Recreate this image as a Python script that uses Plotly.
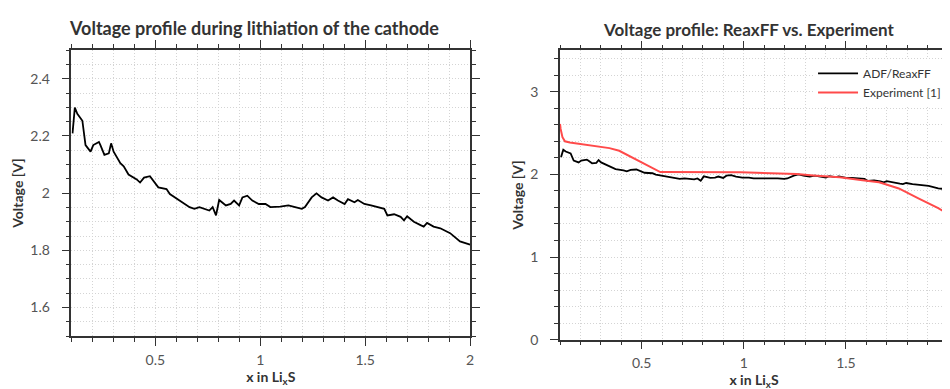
import plotly.graph_objects as go

# ---- data ----
x_sim = [0.105, 0.116, 0.128, 0.144, 0.152, 0.167, 0.191, 0.204, 0.231, 0.238,
         0.257, 0.278, 0.289, 0.301, 0.333, 0.349, 0.372, 0.411, 0.427, 0.446,
         0.474, 0.514, 0.553, 0.569, 0.616, 0.663, 0.686, 0.710, 0.757, 0.773,
         0.789, 0.804, 0.836, 0.859, 0.875, 0.899, 0.915, 0.938, 0.962, 0.993,
         1.025, 1.048, 1.095, 1.134, 1.166, 1.198, 1.213, 1.245, 1.268, 1.292,
         1.323, 1.347, 1.370, 1.402,
         1.418, 1.449, 1.465, 1.496, 1.528, 1.559, 1.591, 1.606, 1.638, 1.669,
         1.685, 1.700, 1.732, 1.764, 1.779, 1.795, 1.826, 1.858, 1.905, 1.952, 2.0]
v_sim = [2.209, 2.299, 2.277, 2.259, 2.253, 2.168, 2.145, 2.168, 2.179, 2.168,
         2.134, 2.139, 2.174, 2.145, 2.105, 2.094, 2.065, 2.048, 2.037, 2.054,
         2.059, 2.020, 2.014, 1.997, 1.974, 1.951, 1.945, 1.951, 1.939, 1.951,
         1.922, 1.976, 1.957, 1.962, 1.974, 1.957, 1.985, 1.991, 1.974, 1.962,
         1.962, 1.951, 1.953, 1.957, 1.951, 1.945, 1.951, 1.985, 1.999, 1.985,
         1.974, 1.985, 1.974, 1.962,
         1.979, 1.968, 1.976, 1.962, 1.957, 1.951, 1.945, 1.922, 1.926, 1.917,
         1.905, 1.919, 1.900, 1.888, 1.883, 1.896, 1.883, 1.877, 1.860, 1.831, 1.820]

x_exp = [0.1, 0.103, 0.112, 0.124, 0.148, 0.213, 0.342, 0.390, 0.454, 0.535,
         0.591, 0.985, 1.130, 1.259, 1.340, 1.469, 1.581, 1.662, 1.694, 1.759,
         1.855, 1.952, 2.0]
v_exp = [2.61, 2.55, 2.45, 2.40, 2.386, 2.365, 2.318, 2.286, 2.207, 2.107,
         2.028, 2.025, 2.018, 2.005, 1.988, 1.965, 1.929, 1.905, 1.881, 1.830,
         1.711, 1.592, 1.52]

title_left = "Voltage profile during lithiation of the cathode"
title_right = "Voltage profile: ReaxFF vs. Experiment"
x_title = "<b>x in Li<sub>x</sub>S</b>"
y_title = "<b>Voltage [V]</b>"

W, H = 950, 389
FONT = "Lato"
GRID = "#d4d4d4"
GDASH = "1px,2px"
AXC = "#333333"

fig = go.Figure()
fig.add_trace(go.Scatter(x=x_sim, y=v_sim, mode="lines", line=dict(color="black", width=1.8),
                         showlegend=False, xaxis="x", yaxis="y"))
fig.add_trace(go.Scatter(x=x_sim, y=v_sim, mode="lines", line=dict(color="black", width=1.8),
                         name="ADF/ReaxFF", xaxis="x2", yaxis="y2"))
fig.add_trace(go.Scatter(x=x_exp, y=v_exp, mode="lines", line=dict(color="#ff4a4a", width=2),
                         name="Experiment [1]", xaxis="x2", yaxis="y2"))


def xax(domain, anchor):
    return dict(domain=domain, anchor=anchor, range=[0.1, 2], tick0=0, dtick=0.5,
                showline=True, linecolor=AXC, linewidth=1.5, mirror="allticks",
                ticks="outside", ticklen=8, tickwidth=1.2, tickcolor=AXC,
                showgrid=True, gridcolor=GRID, griddash=GDASH, gridwidth=1,
                zeroline=False, ticklabeloverflow="allow", ticklabelstandoff=2,
                tickfont=dict(family=FONT, size=14, color="#555555"),
                title=dict(text=x_title, font=dict(family=FONT, size=14, color="#333333"), standoff=3),
                minor=dict(tick0=0, dtick=0.1, ticks="outside", ticklen=4, tickcolor=AXC,
                           showgrid=True, gridcolor=GRID, griddash=GDASH, gridwidth=1))


def yax(domain, anchor, rng, dtick, mdtick):
    return dict(domain=domain, anchor=anchor, range=rng, tick0=0, dtick=dtick,
                showline=True, linecolor=AXC, linewidth=1.5, mirror="allticks",
                ticks="outside", ticklen=8, tickwidth=1.2, tickcolor=AXC,
                showgrid=True, gridcolor=GRID, griddash=GDASH, gridwidth=1,
                zeroline=False, ticklabelstandoff=9,
                tickfont=dict(family=FONT, size=14, color="#555555"),
                title=dict(text=y_title, font=dict(family=FONT, size=14, color="#333333"), standoff=3),
                minor=dict(tick0=0, dtick=mdtick, ticks="outside", ticklen=4, tickcolor=AXC,
                           showgrid=True, gridcolor=GRID, griddash=GDASH, gridwidth=1))


fig.update_layout(
    width=W, height=H,
    margin=dict(l=0, r=0, t=0, b=0),
    paper_bgcolor="white", plot_bgcolor="white",
    font=dict(family=FONT, color="#333333"),
    xaxis=xax([64 / W, 466 / W], "y"),
    yaxis=yax([1 - 335 / H, 1 - 43 / H], "x", [1.5, 2.5], 0.2, 0.05),
    xaxis2=xax([556.7 / W, 948 / W], "y2"),
    yaxis2=yax([1 - 338.7 / H, 1 - 43.3 / H], "x2", [0, 3.5], 1, 0.2),
    legend=dict(x=946 / W, xanchor="right", y=1 - 52 / H, yanchor="top",
                bgcolor="white", borderwidth=0, itemwidth=40,
                font=dict(family=FONT, size=12, color="#333333")),
    annotations=[
        dict(text="<b>" + title_left + "</b>", x=248 / W, y=1 - 20 / H, xref="paper", yref="paper",
             xanchor="center", yanchor="middle", showarrow=False,
             font=dict(family=FONT, size=18, color="#333333")),
        dict(text="<b>" + title_right + "</b>", x=747 / W, y=1 - 21.5 / H, xref="paper", yref="paper",
             xanchor="center", yanchor="middle", showarrow=False,
             font=dict(family=FONT, size=17, color="#333333")),
    ],
)

fig.write_html("out.html")
